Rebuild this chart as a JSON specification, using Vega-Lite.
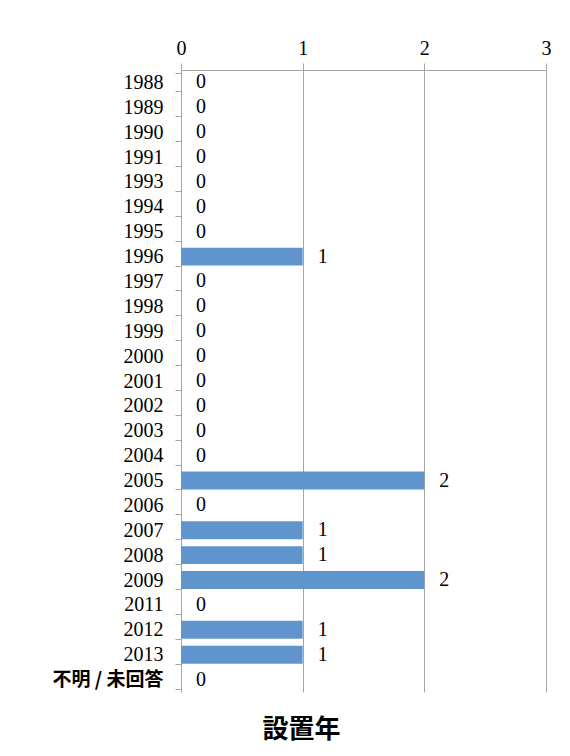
{
  "$schema": "https://vega.github.io/schema/vega-lite/v6.json",
  "width": 365,
  "height": 622,
  "autosize": "none",
  "padding": {"left": 181, "top": 70, "right": 24, "bottom": 64},
  "background": "white",
  "data": {
    "values": [
      {"year": "1988", "count": 0},
      {"year": "1989", "count": 0},
      {"year": "1990", "count": 0},
      {"year": "1991", "count": 0},
      {"year": "1993", "count": 0},
      {"year": "1994", "count": 0},
      {"year": "1995", "count": 0},
      {"year": "1996", "count": 1},
      {"year": "1997", "count": 0},
      {"year": "1998", "count": 0},
      {"year": "1999", "count": 0},
      {"year": "2000", "count": 0},
      {"year": "2001", "count": 0},
      {"year": "2002", "count": 0},
      {"year": "2003", "count": 0},
      {"year": "2004", "count": 0},
      {"year": "2005", "count": 2},
      {"year": "2006", "count": 0},
      {"year": "2007", "count": 1},
      {"year": "2008", "count": 1},
      {"year": "2009", "count": 2},
      {"year": "2011", "count": 0},
      {"year": "2012", "count": 1},
      {"year": "2013", "count": 1},
      {"year": "不明 / 未回答", "count": 0}
    ]
  },
  "title": {
    "text": "設置年",
    "orient": "bottom",
    "anchor": "middle",
    "frame": "bounds",
    "font": "Noto Sans CJK JP",
    "fontSize": 26,
    "fontWeight": "bold",
    "color": "black",
    "offset": 25
  },
  "encoding": {
    "y": {
      "field": "year",
      "type": "nominal",
      "sort": null,
      "scale": {"paddingInner": 0.28, "paddingOuter": 0.14},
      "axis": {
        "title": null,
        "tickBand": "extent",
        "ticks": true,
        "tickSize": 6,
        "tickColor": "#A6A6A6",
        "domainColor": "#A6A6A6",
        "grid": false,
        "labelPadding": 12,
        "labelColor": "black",
        "labelFont": {"condition": {"test": "datum.value == '不明 / 未回答'", "value": "Noto Sans CJK JP"}, "value": "Liberation Serif"},
        "labelFontWeight": {"condition": {"test": "datum.value == '不明 / 未回答'", "value": "bold"}, "value": "normal"},
        "labelFontSize": {"condition": {"test": "datum.value == '不明 / 未回答'", "value": 19}, "value": 20}
      }
    },
    "x": {
      "field": "count",
      "type": "quantitative",
      "scale": {"domain": [0, 3]},
      "axis": {
        "orient": "top",
        "title": null,
        "values": [0, 1, 2, 3],
        "format": "d",
        "grid": true,
        "gridColor": "#A6A6A6",
        "domainColor": "#A6A6A6",
        "tickColor": "#A6A6A6",
        "tickSize": 7,
        "labelPadding": 5,
        "labelFont": "Liberation Serif",
        "labelFontSize": 20,
        "labelColor": "black",
        "labelFlush": false
      }
    }
  },
  "layer": [
    {"mark": {"type": "bar", "color": "#5F95CC"}},
    {
      "mark": {"type": "text", "align": "left", "baseline": "middle", "dx": 15, "font": "Liberation Serif", "fontSize": 20, "color": "black"},
      "encoding": {"text": {"field": "count", "type": "quantitative"}}
    }
  ],
  "config": {"view": {"stroke": null}}
}
